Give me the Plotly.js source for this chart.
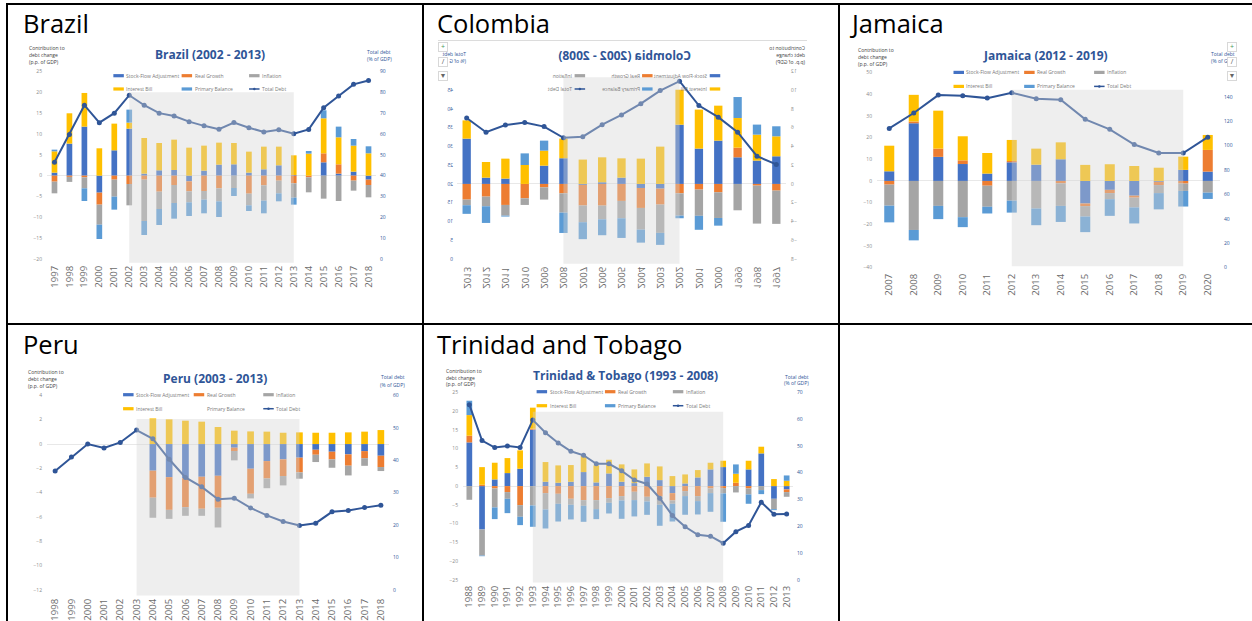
<!DOCTYPE html>
<html><head><meta charset="utf-8">
<script src="https://cdn.plot.ly/plotly-3.0.1.min.js"></script>
<style>
html,body{margin:0;padding:0;background:#fff;width:1252px;height:621px;overflow:hidden;font-family:"Open Sans",sans-serif}
.cell{position:absolute}
.rule{position:absolute;background:#000}
.name{position:absolute;font-size:25.5px;line-height:30px;color:#000;white-space:nowrap}
.btn{position:absolute;width:8px;height:8px;background:#fff;border:1px solid #d8d8d8;font-size:7px;line-height:8px;text-align:center;color:#666;overflow:hidden}
</style></head><body>
<div id="brazil" class="cell"></div><div id="colombia" class="cell"></div><div id="jamaica" class="cell"></div>
<div id="peru" class="cell"></div><div id="trinidad" class="cell"></div>
<script>
// ---------- colours ----------
const barColors = ['#4472C4','#ED7D31','#A5A5A5','#FFC000','#5B9BD5'];
const debtColor = '#2F5597';
const seriesNames = ['Stock-Flow Adjustment','Real Growth','Inflation','Interest Bill','Primary Balance'];
const debtName = 'Total Debt';

// ---------- Brazil ----------
const brazilYears = [1997,1998,1999,2000,2001,2002,2003,2004,2005,2006,2007,2008,2009,2010,2011,2012,2013,2014,2015,2016,2017,2018];
const brazilStock = [.72,7.68,11.76,-4.08,6.08,11.28,.48,1.28,1.36,-1.36,1.2,2.64,2.72,.72,1.52,2.48,.16,0,3.2,.48,.96,-.96];
const brazilGrowth = [-1.44,-.3,-.4,-2.88,-.96,-2,-.96,-3.84,-2.24,-2.4,-3.68,-3.04,0,-4.32,-2.32,-1.2,-1.84,-.4,2.16,2.24,-1.2,-1.28];
const brazilInflation = [-2.8,-1.2,-2.64,-4.8,-4.08,-5.12,-9.92,-4.16,-4.32,-2.64,-2.08,-3.12,-2.96,-2.8,-3.68,-3.04,-3.44,-3.6,-5.52,-6.08,-2.4,-2.96];
const brazilInterest = [5.12,7.28,8.08,6.56,6.4,1.44,8.56,6.56,7.28,6.72,6,5.28,5.12,5.04,5.44,4.48,4.72,5.28,8.4,6.48,6.24,5.36];
const brazilPrimary = [.4,0,-3.04,-3.44,-3.12,3.12,-3.36,-3.84,-3.76,-3.28,-3.28,-3.76,-1.92,-1.36,-3.04,-1.92,-1.68,.64,1.92,2.56,1.6,1.68];
const brazilDebt = [46.4,59.8,73.8,65.4,70,78.6,73.8,70,68.6,65.9,63.9,62.3,65.5,63,61,62,60.1,62.2,72.6,78.2,83.8,85.7];

// ---------- Colombia ----------
const colombiaYears = [1997,1998,1999,2000,2001,2002,2003,2004,2005,2006,2007,2008,2009,2010,2011,2012,2013];
const colombiaStock = [2.95,2.49,2.84,4.62,3.77,6.32,-.5,-.43,.67,.18,-.1,2.74,1.95,0,.57,.67,4.83];
const colombiaGrowth = [-.71,-.18,1.03,-.89,-.6,-1,-1.7,-2.13,-1.81,-2.31,-2.2,-1,-.36,-1.53,-2.24,-1.35,-1.67];
const colombiaInflation = [-3.55,-4.05,-2.81,-2.74,-2.8,-2.38,-3.02,-2.31,-1.85,-1.46,-1.78,-2.06,-1.31,-.71,-1.14,-1.03,-.6];
const colombiaInterest = [2.13,2.77,3.16,3.73,4.16,3.73,3.98,2.7,2.06,2.66,2.6,2.1,1.6,2.02,2.13,1.67,1.95];
const colombiaPrimary = [1.07,1.07,2.24,-.82,-1.49,-.28,-1.28,-1.39,-2.1,-1.7,-1.81,-2.17,1.07,1.24,-.1,-1.78,-.92];
const colombiaDebt = [25.2,27.4,33.8,37.8,40.9,47.4,44.9,41.4,38.4,35.8,32.6,32.3,35.3,36.4,35.7,33.8,37.6];

// ---------- Jamaica ----------
const jamaicaYears = [2007,2008,2009,2010,2011,2012,2013,2014,2015,2016,2017,2018,2019,2020];
const jamaicaStock = [4.45,26.6,11.1,7.8,3.4,8.6,7.5,10,-10.4,-4.1,-6.8,-.4,5.1,4.3];
const jamaicaGrowth = [-1.7,.8,3.8,1.7,-2.2,.6,0,-1.1,-1.2,-1.5,-.9,-1.5,-1.2,10];
const jamaicaInflation = [-9.7,-22.6,-11.5,-16.7,-9.7,-9.1,-12.7,-10.4,-4.8,-2.8,-4.5,-3.7,-3.4,-5.4];
const jamaicaInterest = [11.8,12.3,17.5,11.1,9.5,9.7,7.4,7.8,7.4,7.7,6.9,6.1,6.1,6.9];
const jamaicaPrimary = [-7.7,-4.8,-6.1,-4.6,-3.1,-5.5,-7.7,-7.4,-7.2,-7.7,-7.4,-7.5,-7.2,-2.9];
const jamaicaDebt = [114.2,126.8,141.5,141,139,143.4,138.5,137.7,121.6,113.4,101,94,94,107];

// ---------- Peru ----------
const peruYears = [1998,1999,2000,2001,2002,2003,2004,2005,2006,2007,2008,2009,2010,2011,2012,2013,2014,2015,2016,2017,2018];
const peruStock = [null,null,null,null,null,null,-2.19,-2.72,-2.8,-2.69,-2.61,-.3,-2.03,-1.4,-1.26,-1.12,-.47,-.63,-.85,-.58,-.96];
const peruGrowth = [null,null,null,null,null,null,-2.22,-2.69,-2.39,-2.63,-2.63,-.27,-2.06,-1.43,-1.37,-1.21,-.41,-.63,-.93,-.58,-.93];
const peruInflation = [null,null,null,null,null,null,-1.65,-.74,-.71,-.58,-1.62,-.77,-.38,-.8,-.77,-.52,-.6,-.69,-.8,-.63,-.33];
const peruInterest = [null,null,null,null,null,null,2.11,2.03,1.92,1.84,1.4,1.1,1.04,1.02,.93,.96,.93,.93,.96,1.02,1.15];
const peruPrimary = [null,null,null,null,null,null,null,null,null,null,null,null,null,null,null,null,null,null,null,null,null];
const peruDebt = [36.7,41,45,43.8,45.5,49.3,46.6,40.3,34.7,31.8,28,28.3,25.3,23,21.1,19.9,20.6,24.1,24.5,25.4,26.1];

// ---------- Trinidad & Tobago ----------
const trinidadYears = [1988,1989,1990,1991,1992,1993,1994,1995,1996,1997,1998,1999,2000,2001,2002,2003,2004,2005,2006,2007,2008,2009,2010,2011,2012,2013];
const trinidadStock = [11.65,-11.57,1.78,3.47,4.63,15.04,1.16,.89,1.16,3.74,.98,3.38,1.16,.8,2.49,1.6,-1.87,.71,2.31,4.45,5.07,0,4.45,8.72,-3.38,-.89];
const trinidadGrowth = [1.78,.36,-.62,-1.6,-5.07,.27,-1.87,-2.05,-3.38,-3.74,-3.74,-3.2,-2.67,-1.51,-2.85,-2.76,-1.96,-1.33,-2.67,-.62,-.53,.89,-.62,0,0,-.71];
const trinidadInflation = [-3.65,-6.94,-5.07,-1.78,-3.11,-5.16,-4.36,-2.67,-1.6,-1.51,-2.4,-1.25,-1.16,-2.22,-1.25,-2.22,-.89,-1.33,-1.33,-1.25,-1.42,-1.69,-1.6,-1.07,-2.76,-1.25];
const trinidadInterest = [5.5,4.7,4.45,4,4.89,5.6,5.25,4.63,4.45,4.27,4.54,3.65,4.63,3.65,3.56,3.65,2.67,2.4,1.96,1.78,1.69,2.4,2.31,1.78,1.87,1.42];
const trinidadPrimary = [3.83,-.18,-3.11,-3.83,-2.22,-5.69,-5.07,-4.72,-3.91,-4.27,-2.67,-2.85,-4.89,-4.36,-3.56,-5.6,-4.72,-4.98,-3.56,-4.98,-7.56,2.49,-2.49,-1.07,-.27,1.42];
const trinidadDebt = [65.4,52,49.4,50,49.4,59.7,54.9,51.1,48,46.5,43.3,43.3,40.7,37.3,35.8,30.5,24,19.8,16.8,16.3,13.7,18,20.3,29,24.5,24.6];

// ---------- panels: all pixel numbers below are page positions ----------
const panels = [
 {id:'brazil',name:'Brazil',title:'Brazil (2002 - 2013)',years:brazilYears,
  series:[brazilStock,brazilGrowth,brazilInflation,brazilInterest,brazilPrimary],debt:brazilDebt,
  cell:[8,5,414,318],plot:[46.8,376.5,71.7,263],zero:176,ppu:4.17,base:-20,ratio:2,
  cTicks:[-20,-15,-10,-5,0,5,10,15,20,25],dTicks:[0,10,20,30,40,50,60,70,80,90],
  hl:[2002,2013,20,-20.9],bargap:.62,xStandoff:0,
  titlePos:[209.7,55],cap:[26.7,[48,55,62]],capR:[380,[52.7,59]],
  keyX:[113.3,181.7,249.3],keyY:[76,89.3]},
 {id:'colombia',name:'Colombia',title:'Colombia (2002 - 2008)',years:colombiaYears,mirror:true,
  series:[colombiaStock,colombiaGrowth,colombiaInflation,colombiaInterest,colombiaPrimary],debt:colombiaDebt,
  cell:[424,5,414,318],plot:[476,804.7,71.7,264],zero:184.3,ppu:9.38,base:-8,ratio:2.5,
  cTicks:[-8,-6,-4,-2,0,2,4,6,8,10,12],dTicks:[0,5,10,15,20,25,30,35,40,45],
  hl:[2002,2008,11.37,-8.5],bargap:.57,xStandoff:0,
  titlePos:[637.7,55.7],cap:[455,[48,55,62]],capR:[794,[54,61]],capRText:['Total debt','(% of G'],capRAnchor:'left',
  keyX:[541.7,609.3,676.7],keyY:[76,89.3]},
 {id:'jamaica',name:'Jamaica',title:'Jamaica (2012 - 2019)',years:jamaicaYears,
  series:[jamaicaStock,jamaicaGrowth,jamaicaInflation,jamaicaInterest,jamaicaPrimary],debt:jamaicaDebt,
  cell:[840,5,412,318],plot:[876.75,1220,72.7,268],zero:181.3,ppu:2.17,base:-40,ratio:1.7778,
  cTicks:[-40,-30,-20,-10,0,10,20,30,40,50],dTicks:[0,20,40,60,80,100,120,140],
  hl:[2012,2019,42,-39.3],bargap:.59,xStandoff:3,
  titlePos:[1045.3,56],cap:[856,[50.7,57.7,64.3]],capR:[1209,[54,61.3]],capRText:['Total debt','(% of G'],capRAnchor:'left',
  keyX:[953.3,1024,1094],keyY:[72.7,86.7]},
 {id:'peru',name:'Peru',title:'Peru (2003 - 2013)',years:peruYears,noPrimaryKey:true,
  series:[peruStock,peruGrowth,peruInflation,peruInterest,peruPrimary],debt:peruDebt,
  cell:[8,325,414,296],plot:[46.85,389.15,395.7,595.7],zero:444.3,ppu:12.15,base:-12,ratio:3.75,
  cTicks:[-12,-10,-8,-6,-4,-2,0,2,4],dTicks:[0,10,20,30,40,50,60],
  hl:[2003,2013,2.06,-12.45],bargap:.59,xStandoff:0,
  titlePos:[215,378.7],cap:[26,[372,379,386]],capR:[392.7,[377.7,385]],
  keyX:[123,193.7,263.3],keyY:[395,409]},
 {id:'trinidad',name:'Trinidad and Tobago',title:'Trinidad &amp; Tobago (1993 - 2008)',years:trinidadYears,
  series:[trinidadStock,trinidadGrowth,trinidadInflation,trinidadInterest,trinidadPrimary],debt:trinidadDebt,
  cell:[424,325,414,296],plot:[462.6,793,392.7,582.7],zero:486.3,ppu:3.747,base:-25,ratio:1.4,
  cTicks:[-25,-20,-15,-10,-5,0,5,10,15,20,25],dTicks:[0,10,20,30,40,50,60,70],
  hl:[1993,2008,19.8,-25.7],bargap:.55,xStandoff:0,
  titlePos:[625.3,376.3],cap:[443.3,[371.3,378,384.7]],capR:[796.7,[377,383.7]],
  keyX:[536.3,604.7,672.7],keyY:[392,406]}
];
const contribCaption = ['Contribution to','debt change','(p.p. of GDP)'];
const debtCaption = ['Total debt','(% of GDP)'];
const FONT = '"Open Sans", sans-serif';

function draw(p){
  const [cx,cy,cw,ch]=p.cell;
  // a hair of slack so the end ticks stay inside the axis range
  const pl=p.plot[0],pr=p.plot[1],pt=p.plot[2]-.4,pb=p.plot[3]+.4;
  const el=document.getElementById(p.id);
  el.style.cssText=`left:${cx}px;top:${cy}px;width:${cw}px;height:${ch}px;`+(p.mirror?'transform:scaleX(-1);':'');
  const X=v=>(v-pl)/(pr-pl), Y=v=>(pb-v)/(pb-pt);
  const lo=(p.zero-pb)/p.ppu, hi=(p.zero-pt)/p.ppu;
  const traces=p.series.map((vals,i)=>({type:'bar',x:p.years,y:vals,name:seriesNames[i],
    marker:{color:barColors[i],line:{width:0}},yaxis:'y'}));
  traces.push({type:'scatter',mode:'lines+markers',x:p.years,y:p.debt,name:debtName,yaxis:'y2',
    line:{color:debtColor,width:2},marker:{color:debtColor,size:5}});
  const txt=(text,x,y,size,color,anchor,bold)=>({text:bold?'<b>'+text+'</b>':text,xref:'paper',yref:'paper',x:X(x),y:Y(y),
    xanchor:anchor||'left',yanchor:'middle',showarrow:false,font:{family:FONT,size:size,color:color}});
  const ann=[txt(p.title,p.titlePos[0],p.titlePos[1],12,debtColor,'center',true)];
  contribCaption.forEach((s,i)=>ann.push(txt(s,p.cap[0],p.cap[1][i],5,'#404040','left')));
  (p.capRText||debtCaption).forEach((s,i)=>ann.push(txt(s,p.capR[0],p.capR[1][i],5,debtColor,p.capRAnchor||'center')));
  const shapes=[{type:'rect',layer:'above',xref:'x',yref:'y',x0:p.hl[0],x1:p.hl[1],y0:p.hl[3],y1:p.hl[2],
    fillcolor:'rgba(212,212,212,0.4)',line:{width:0}}];
  // legend: three columns, two rows
  [0,1,2,3,4,5].forEach(k=>{
    const col=k%3,row=k<3?0:1,kx=p.keyX[col],ky=p.keyY[row];
    const label=k<5?seriesNames[k]:debtName;
    ann.push(txt(label,kx+11,ky,5,'#7a7a7a','left'));
    if(k===5){
      shapes.push({type:'line',layer:'above',xref:'paper',yref:'paper',x0:X(kx),x1:X(kx+10.5),y0:Y(ky),y1:Y(ky),line:{color:debtColor,width:1.5}});
      shapes.push({type:'circle',layer:'above',xref:'paper',yref:'paper',x0:X(kx+4),x1:X(kx+6.5),y0:Y(ky+1.25),y1:Y(ky-1.25),fillcolor:debtColor,line:{width:0}});
    } else if(!(k===4&&p.noPrimaryKey)){
      shapes.push({type:'rect',layer:'above',xref:'paper',yref:'paper',x0:X(kx),x1:X(kx+10.5),y0:Y(ky+1.6),y1:Y(ky-1.6),fillcolor:barColors[k],line:{width:0}});
    }
  });
  const layout={width:cw,height:ch,showlegend:false,barmode:'relative',bargap:p.bargap,
    paper_bgcolor:'rgba(0,0,0,0)',plot_bgcolor:'rgba(0,0,0,0)',
    margin:{l:pl-cx,r:cx+cw-pr,t:pt-cy,b:cy+ch-pb,pad:0},
    font:{family:FONT},
    xaxis:{range:[p.years[0]-.5,p.years[p.years.length-1]+.5],tickmode:'array',tickvals:p.years,ticktext:p.years.map(String),
      tickangle:-90,tickfont:{size:9.5,color:'#6b6b6b',family:FONT},showgrid:false,zeroline:false,showline:false,ticks:'',ticklabelstandoff:p.xStandoff},
    yaxis:{range:[lo,hi],tickmode:'array',tickvals:p.cTicks,tickfont:{size:5,color:'#8a8a8a',family:FONT},
      showgrid:false,zeroline:true,zerolinecolor:'#e8e8e8',zerolinewidth:1,showline:false,ticks:'',ticklabelstandoff:4},
    yaxis2:{overlaying:'y',side:'right',range:[(lo-p.base)*p.ratio,(hi-p.base)*p.ratio],tickmode:'array',tickvals:p.dTicks,
      tickfont:{size:5,color:debtColor,family:FONT},showgrid:false,zeroline:false,showline:false,ticks:'',ticklabelstandoff:3},
    annotations:ann,shapes:shapes};
  return Plotly.newPlot(el,traces,layout,{staticPlot:true,displayModeBar:false});
}
panels.forEach(draw);

// ---------- table rules and cell headings ----------
const rules=[[6,3,1246,2],[6,3,2,618],[422,3,2,618],[838,3,2,618],[6,323,1246,2]];
rules.forEach(r=>{const d=document.createElement('div');d.className='rule';
  d.style.cssText=`left:${r[0]}px;top:${r[1]}px;width:${r[2]}px;height:${r[3]}px`;document.body.appendChild(d);});
const headings=[['Brazil',23,8],['Colombia',437,8],['Jamaica',852,8],['Peru',23,329],['Trinidad and Tobago',437,329]];
headings.forEach(h=>{const d=document.createElement('div');d.className='name';d.textContent=h[0];
  d.style.left=h[1]+'px';d.style.top=h[2]+'px';document.body.appendChild(d);});
// chart-editor buttons visible in the pasted screenshots
const buttons=[[438,42,'+','#4a9a5a'],[438,57,'/','#555'],[438,71,'▼','#666'],[1227,42,'+','#4a9a5a'],[1227,57,'/','#555'],[1227,71,'▼','#666']];
buttons.forEach(b=>{const d=document.createElement('div');d.className='btn';d.textContent=b[2];
  d.style.left=b[0]+'px';d.style.top=b[1]+'px';d.style.color=b[3];document.body.appendChild(d);});
const sel=document.createElement('div');sel.style.cssText='position:absolute;left:438px;top:40px;width:369px;height:1px;background:#dcdcdc';document.body.appendChild(sel);
</script></body></html>
